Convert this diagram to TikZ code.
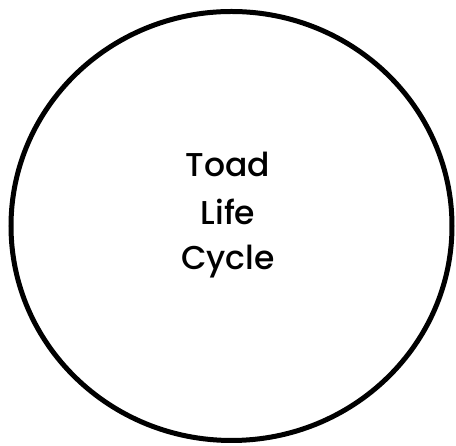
\documentclass[tikz,border=0pt]{standalone}
\usepackage{fontspec}
\setmainfont{Poppins}[UprightFont=* Medium]
\begin{document}
\begin{tikzpicture}[x=1pt,y=1pt,
  ring/.style={draw=black,line width=5pt},
  lbl/.style={anchor=base,font=\fontsize{33}{38}\selectfont,inner sep=0pt}]
\useasboundingbox (0,0) rectangle (456,446);
\draw[ring] (231.5,220) ellipse [x radius=220.5,y radius=214.5];
\node[lbl] (t1) at (228,269) {Toad};
\node[lbl] (t2) at (228,221) {Life};
\node[lbl] (t3) at (228,176) {Cycle};
\end{tikzpicture}
\end{document}
